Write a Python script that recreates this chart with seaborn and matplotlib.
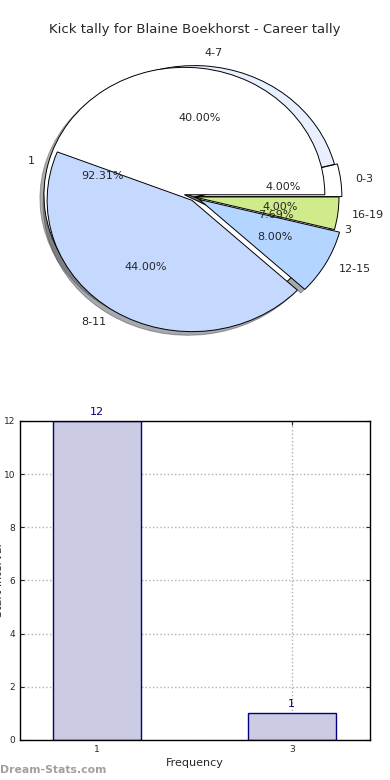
import matplotlib
matplotlib.use("Agg")
import matplotlib.pyplot as plt
import seaborn as sns
import pandas as pd

# ---- data ----
age_labels = ["0-3", "4-7", "8-11", "12-15", "16-19"]
age_counts = [1, 10, 11, 2, 1]
freq_labels = ["1", "3"]
freq_counts = [12, 1]

title = "Kick tally for Blaine Boekhorst - Career tally"
x_label = "Frequency"
y_label = "Start Interval"
y_ticks = [0, 2, 4, 6, 8, 10, 12]

sns.set_style("white")
plt.rcParams["font.family"] = ["DejaVu Sans"]

fig = plt.figure(figsize=(3.9, 7.8), dpi=100)

# ---- pie chart ----
axp = fig.add_axes([0.034, 0.537, 0.928, 0.421])
age_colors = ["#ffffff", "#e8efff", "#c5d9ff", "#b4d5ff", "#cfeb8b"]
wA, tA, aA = axp.pie(age_counts, labels=age_labels, colors=age_colors,
                     explode=[0.02, 0.0, 0.03, 0.04, 0.0], autopct="%.2f%%",
                     shadow=True, startangle=0,
                     wedgeprops=dict(edgecolor="black", linewidth=0.7),
                     textprops=dict(fontsize=8))
wB, tB, aB = axp.pie(freq_counts, labels=freq_labels, colors=["#ffffff", "#ffffff"],
                     explode=[0.07, 0.0], radius=0.97, autopct="%.2f%%",
                     shadow=True, startangle=0,
                     wedgeprops=dict(edgecolor="black", linewidth=0.7),
                     textprops=dict(fontsize=8))
# layering
for p in axp.patches:
    if p not in wA and p not in wB:
        p.set_zorder(0.5)  # shadows
        p.set_alpha(0.45)
for i, w in enumerate(wA):
    w.set_zorder(1 if i < 2 else 3)
for w in wB:
    w.set_zorder(2)
for t in list(tA) + list(aA) + list(tB) + list(aB):
    t.set_zorder(5)
axp.set_aspect("auto")
axp.set_xlim(-1.25, 1.25)
axp.set_ylim(-1.25, 1.25)
fig.text(0.5, 1 - 30 / 780, title, fontsize=9.5, ha="center", va="center")

# ---- bar chart ----
axb = fig.add_axes([0.051, 0.0513, 0.897, 0.409])
df = pd.DataFrame({"freq": freq_labels, "count": freq_counts})
sns.barplot(data=df, x="freq", y="count", ax=axb, color="#cbcce4",
            edgecolor="#000080", linewidth=1.0, width=0.45, saturation=1)
for i, v in enumerate(freq_counts):
    axb.text(i, v + 0.15, str(v), ha="center", va="bottom", color="#000080", fontsize=8)
axb.set_xlim(-0.395, 1.4)
axb.set_ylim(0, 12)
axb.set_yticks(y_ticks)
axb.grid(True, linestyle=":", color="#b0b0b0", linewidth=1.0)
for p in axb.patches:
    p.set_zorder(1)
for gl in axb.get_xgridlines() + axb.get_ygridlines():
    gl.set_zorder(2)
axb.tick_params(axis="both", labelsize=6.5, direction="in", length=3,
                top=True, right=True, bottom=True, left=True)
for s in axb.spines.values():
    s.set_color("black")
    s.set_linewidth(1.0)
    s.set_zorder(5)
axb.set_xlabel(x_label, fontsize=8, labelpad=3)
axb.set_ylabel(y_label, fontsize=8)
axb.yaxis.set_label_coords(-0.046, 0.5)

fig.text(0.0, 0.0128, "Dream-Stats.com", fontsize=7.8, fontweight="bold",
         color="#a0a0a0", ha="left", va="center")

fig.savefig("out.png", dpi=100)
